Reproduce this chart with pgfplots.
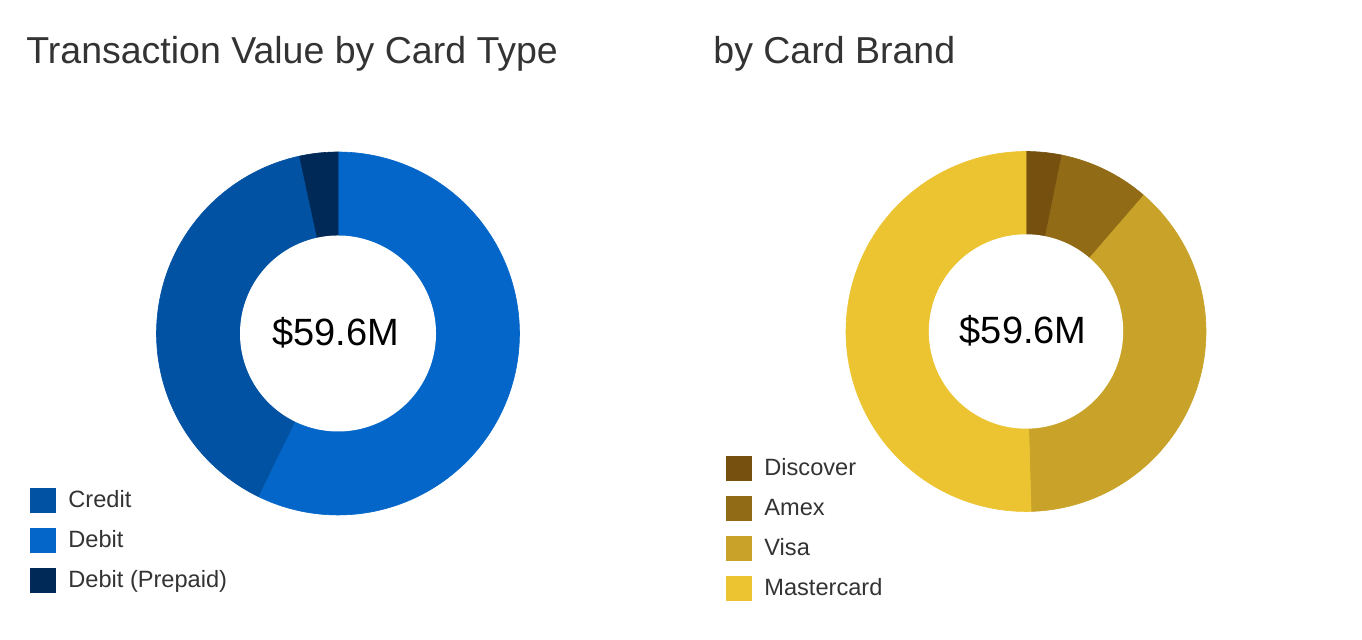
\documentclass[border=0pt]{standalone}
\usepackage{pgfplots}
\pgfplotsset{compat=1.18}
\usepackage{pgfplotstable}
\usepackage{fontspec}
\setmainfont{Liberation Sans}

\definecolor{tgray}{RGB}{51,51,51}
\definecolor{cCredit}{RGB}{2,82,163}
\definecolor{cDebit}{RGB}{4,102,200}
\definecolor{cPrepaid}{RGB}{0,41,87}
\definecolor{cDiscover}{RGB}{117,80,15}
\definecolor{cAmex}{RGB}{145,107,22}
\definecolor{cVisa}{RGB}{201,162,41}
\definecolor{cMaster}{RGB}{236,196,49}

% share of transaction value (%), in drawing order (clockwise from 12 o'clock)
\pgfplotstableread{
name value col
Debit 57.25 cDebit
Credit 39.35 cCredit
Prepaid 3.40 cPrepaid
}\typetable

\pgfplotstableread{
name value col
Discover 3.20 cDiscover
Amex 8.15 cAmex
Visa 38.20 cVisa
Mastercard 50.45 cMaster
}\brandtable

\newcommand\drawslices[2]{%
  \def\cum{0}%
  \pgfplotsforeachungrouped \i in {0,...,#2}{%
    \pgfplotstablegetelem{\i}{value}\of#1\let\val\pgfplotsretval
    \pgfplotstablegetelem{\i}{col}\of#1\let\col\pgfplotsretval
    \pgfmathsetmacro\aStart{90-3.6*\cum}%
    \pgfmathsetmacro\cum{\cum+\val}%
    \pgfmathsetmacro\aEnd{90-3.6*\cum}%
    \edef\tmp{\noexpand\addplot[forget plot, fill=\col, draw=\col, line width=0.3pt, domain=\aEnd:\aStart, samples=120] ({cos(x)},{sin(x)}) -- (axis cs:0,0) -- cycle;}%
    \tmp
  }%
  \addplot[forget plot, fill=white, draw=none, domain=0:360, samples=180] ({0.54*cos(x)},{0.54*sin(x)}) -- cycle;
}

\pgfplotsset{
  donut/.style={
    scale only axis, hide axis, anchor=center,
    xmin=-1, xmax=1, ymin=-1, ymax=1,
    enlargelimits=false, clip=false,
    legend image code/.code={\fill[##1,draw=none] (0pt,-6.25pt) rectangle (13pt,6.25pt);},
    legend cell align=left,
    legend style={draw=none, fill=none, anchor=north west, inner sep=0pt, outer sep=0pt,
      row sep=6.8pt, column sep=6.2pt, font=\fontsize{11.8}{13}\selectfont, text=tgray,
      nodes={inner sep=0pt, text height=10pt, text depth=3.2pt}},
  },
}

\begin{document}
\begin{tikzpicture}
\useasboundingbox (0,0) rectangle (681pt,320pt);

\node[anchor=base west, inner sep=0pt, text=tgray, font=\fontsize{18.75}{22}\selectfont] at (13pt,288.35pt) {Transaction Value by Card Type};
\node[anchor=base west, inner sep=0pt, text=tgray, font=\fontsize{18.75}{22}\selectfont] at (356.5pt,288.35pt) {by Card Brand};

\begin{axis}[donut, at={(169pt,153.25pt)}, width=181.5pt, height=181.5pt,
  legend style={at={(-0.3485,0.0763)}}]
  \drawslices{\typetable}{2}
  \addlegendimage{fill=cCredit}\addlegendentry{Credit}
  \addlegendimage{fill=cDebit}\addlegendentry{Debit}
  \addlegendimage{fill=cPrepaid}\addlegendentry{Debit (Prepaid)}
  \node[anchor=base, inner sep=0pt, font=\fontsize{19}{22}\selectfont] at (axis cs:-0.014,-0.067) {\$59.6M};
\end{axis}

\begin{axis}[donut, at={(513pt,154.25pt)}, width=180pt, height=180pt,
  legend style={at={(-0.3333,0.1561)}}]
  \drawslices{\brandtable}{3}
  \addlegendimage{fill=cDiscover}\addlegendentry{Discover}
  \addlegendimage{fill=cAmex}\addlegendentry{Amex}
  \addlegendimage{fill=cVisa}\addlegendentry{Visa}
  \addlegendimage{fill=cMaster}\addlegendentry{Mastercard}
  \node[anchor=base, inner sep=0pt, font=\fontsize{19}{22}\selectfont] at (axis cs:-0.0156,-0.069) {\$59.6M};
\end{axis}
\end{tikzpicture}
\end{document}
